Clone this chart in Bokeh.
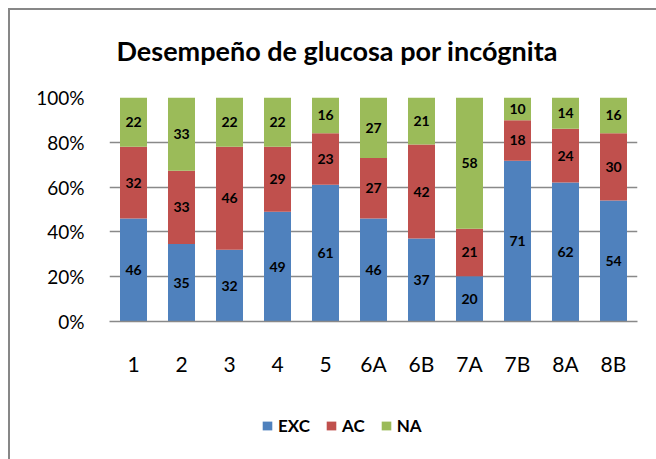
from bokeh.plotting import figure
from bokeh.layouts import column
from bokeh.models import (ColumnDataSource, FactorRange, Range1d, FixedTicker,
                          PrintfTickFormatter, Legend, LegendItem)
from bokeh.core.properties import value
from bokeh.embed import file_html
from bokeh.resources import INLINE

categories = ["1", "2", "3", "4", "5", "6A", "6B", "7A", "7B", "8A", "8B"]
exc = [46, 35, 32, 49, 61, 46, 37, 20, 71, 62, 54]
ac = [32, 33, 46, 29, 23, 27, 42, 21, 18, 24, 30]
na = [22, 33, 22, 22, 16, 27, 21, 58, 10, 14, 16]
series_names = ["EXC", "AC", "NA"]
colors = ["#4F81BD", "#C0504D", "#9BBB59"]
y_ticks = [0, 20, 40, 60, 80, 100]

FONT = "Lato"
BORDER = "#878787"

totals = [a + b + c for a, b, c in zip(exc, ac, na)]
pe = [v / t * 100 for v, t in zip(exc, totals)]
pa = [v / t * 100 for v, t in zip(ac, totals)]
pn = [v / t * 100 for v, t in zip(na, totals)]

src = ColumnDataSource(dict(x=categories, EXC=pe, AC=pa, NA=pn))

p = figure(x_range=FactorRange(*categories, range_padding=0),
           y_range=Range1d(0, 100),
           width=656, height=400, output_backend="svg", toolbar_location=None,
           min_border_left=109, min_border_right=19, min_border_top=97,
           min_border_bottom=79)
p.border_fill_color = None
p.background_fill_color = "#ffffff"
p.styles = {"box-shadow": f"inset 8px 8px 0 0 #ffffff, inset 10px 10px 0 0 {BORDER}"}

p.title.text = "Desempeño de glucosa por incógnita"
p.title.text_font = FONT
p.title.text_font_size = "27px"
p.title.text_font_style = "bold"
p.title.text_color = "#000000"
p.title.align = "left"
p.title.offset = 7
p.title.standoff = 62

renderers = p.vbar_stack(series_names, x="x", width=0.5625, color=colors,
                         line_color=None, source=src)

# value labels
lx, ly, lt = [], [], []
for i, c in enumerate(categories):
    base = 0
    for raw, pc in ((exc[i], pe[i]), (ac[i], pa[i]), (na[i], pn[i])):
        lx.append(c)
        ly.append(base + pc / 2)
        lt.append(str(raw))
        base += pc
p.text(x="x", y="y", text="t", source=ColumnDataSource(dict(x=lx, y=ly, t=lt)),
       text_font=value(FONT), text_font_size="14px", text_font_style="bold",
       text_color="#000000", text_align="center", text_baseline="middle")

p.outline_line_color = None
p.xgrid.grid_line_color = None
p.ygrid.grid_line_color = "#898989"
p.ygrid.grid_line_width = 1.3
p.ygrid.ticker = FixedTicker(ticks=y_ticks)

p.yaxis.ticker = FixedTicker(ticks=y_ticks)
p.yaxis.formatter = PrintfTickFormatter(format="%d%%")
p.yaxis.axis_line_color = None
p.yaxis.major_tick_line_color = None
p.yaxis.minor_tick_line_color = None
p.yaxis.major_tick_out = 0
p.yaxis.major_tick_in = 0
p.yaxis.minor_tick_out = 0
p.yaxis.major_label_standoff = 25
p.yaxis.major_label_text_font = FONT
p.yaxis.major_label_text_font_size = "19px"
p.yaxis.major_label_text_color = "#000000"

p.xaxis.axis_line_color = "#898989"
p.xaxis.axis_line_width = 1.3
p.xaxis.major_tick_line_color = None
p.xaxis.minor_tick_line_color = None
p.xaxis.major_tick_out = 0
p.xaxis.major_tick_in = 0
p.xaxis.major_label_standoff = 29
p.xaxis.major_label_text_font = FONT
p.xaxis.major_label_text_font_size = "21px"
p.xaxis.major_label_text_color = "#000000"

# legend strip below the chart (its bars lie outside its own view range)
p2 = figure(width=656, height=59, x_range=FactorRange(*categories),
            y_range=Range1d(1000, 1001),
            output_backend="svg", toolbar_location=None, min_border=0,
            x_axis_location=None, y_axis_location=None)
p2.grid.visible = False
p2.outline_line_color = None
p2.border_fill_color = None
p2.background_fill_color = None
p2.styles = {"box-shadow": f"inset 8px 0 0 0 #ffffff, inset 10px 0 0 0 {BORDER}"}
leg_renderers = p2.vbar_stack(series_names, x="x", width=0.5625, color=colors,
                              line_color=None, source=src)

legend = Legend(items=[LegendItem(label=n, renderers=[r]) for n, r in zip(series_names, leg_renderers)],
                orientation="horizontal", location=(152, 23),
                glyph_width=12, glyph_height=11, label_standoff=5, spacing=15,
                padding=0, margin=0, border_line_color=None, background_fill_alpha=0,
                label_text_font=FONT, label_text_font_size="17px",
                label_text_font_style="bold", label_text_color="#000000")
p2.add_layout(legend, "center")

layout = column(p, p2, spacing=0)
open("out.html", "w").write(file_html(layout, INLINE))
